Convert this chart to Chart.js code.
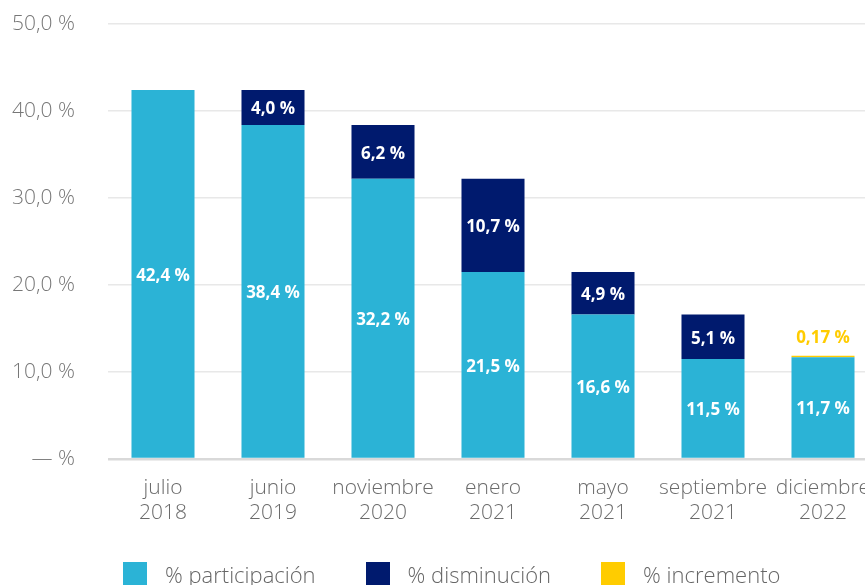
<!DOCTYPE html>
<html>
<head>
<meta charset="utf-8">
<script src="https://cdn.jsdelivr.net/npm/chart.js@4"></script>
<style>
  html, body { margin: 0; padding: 0; background: #fff; overflow: hidden; }
  #wrap { position: relative; width: 880px; height: 585px; }
  #chart-box { position: absolute; left: 0; top: 0; width: 880px; height: 560px; }
  #legend { position: absolute; left: 123px; top: 562px; display: flex; font-family: 'Open Sans', sans-serif; font-weight: 300; font-size: 22px; color: #666; line-height: 24px; }
  #legend .item { display: flex; align-items: center; margin-right: 50px; }
  #legend .box { width: 24px; height: 24px; margin-right: 18px; }
</style>
</head>
<body>
<div id="wrap">
  <div id="chart-box"><canvas id="c"></canvas></div>
  <div id="legend"></div>
</div>
<script>
(() => {
  'use strict';

  const categories = [
    ['julio', '2018'],
    ['junio', '2019'],
    ['noviembre', '2020'],
    ['enero', '2021'],
    ['mayo', '2021'],
    ['septiembre', '2021'],
    ['diciembre', '2022']
  ];
  const participacion = [42.4, 38.4, 32.2, 21.5, 16.6, 11.5, 11.7];
  const disminucion = [0, 4.0, 6.2, 10.7, 4.9, 5.1, 0];
  const incremento = [0, 0, 0, 0, 0, 0, 0.17];
  const yTicks = [0, 10, 20, 30, 40, 50];

  const COLORS = {
    participacion: '#2bb3d6',
    disminucion: '#001a6e',
    incremento: '#ffcc00'
  };

  const fmt = (v, digits) => v.toFixed(digits).replace('.', ',') + ' %';

  // white labels in the middle of each segment, yellow one above the stack for increments
  const valueLabels = {
    id: 'valueLabels',
    afterDatasetsDraw(chart) {
      const ctx = chart.ctx;
      ctx.save();
      ctx.font = '700 17px "Open Sans", sans-serif';
      ctx.textAlign = 'center';
      ctx.textBaseline = 'middle';
      chart.data.datasets.forEach((ds, i) => {
        const meta = chart.getDatasetMeta(i);
        meta.data.forEach((bar, j) => {
          const v = ds.data[j];
          if (!v) return;
          if (ds.key === 'incremento') {
            ctx.fillStyle = COLORS.incremento;
            ctx.fillText(fmt(v, 2), bar.x, bar.y - 18);
          } else {
            ctx.fillStyle = '#ffffff';
            ctx.fillText(fmt(v, 1), bar.x, (bar.y + bar.base) / 2 + 2);
          }
        });
      });
      ctx.restore();
    }
  };

  const datasets = [
    { key: 'participacion', label: '% participación', data: participacion, backgroundColor: COLORS.participacion },
    { key: 'disminucion', label: '% disminución', data: disminucion, backgroundColor: COLORS.disminucion },
    { key: 'incremento', label: '% incremento', data: incremento, backgroundColor: COLORS.incremento }
  ];

  new Chart(document.getElementById('c'), {
    type: 'bar',
    data: {
      labels: categories,
      datasets: datasets.map(d => Object.assign({
        categoryPercentage: 1,
        barPercentage: 0.573,
        borderWidth: 0
      }, d))
    },
    options: {
      responsive: true,
      maintainAspectRatio: false,
      animation: false,
      layout: { padding: { top: 24, right: 2 } },
      plugins: {
        legend: { display: false },
        tooltip: { enabled: false }
      },
      scales: {
        x: {
          stacked: true,
          grid: { display: false },
          border: { display: false },
          ticks: {
            color: '#6b6b6b',
            padding: 8,
            autoSkip: false,
            maxRotation: 0,
            minRotation: 0,
            font: { family: 'Open Sans', size: 21, weight: 300, lineHeight: 1.2 }
          },
          afterFit: scale => {
            scale.height = 101;
            scale.paddingLeft = 0;
            scale.paddingRight = 0;
          }
        },
        y: {
          stacked: true,
          min: 0,
          max: 50,
          afterBuildTicks: scale => { scale.ticks = yTicks.map(v => ({ value: v })); },
          grid: {
            drawTicks: false,
            color: ctx => ctx.tick && ctx.tick.value === 0 ? '#d9d9d9' : '#e8e8e8',
            lineWidth: ctx => ctx.tick && ctx.tick.value === 0 ? 2.5 : 1.5
          },
          border: { display: false },
          ticks: {
            color: '#777',
            padding: 33,
            font: { family: 'Open Sans', size: 21, weight: 300 },
            callback: v => v === 0 ? '— %' : fmt(v, 1)
          },
          afterFit: scale => {
            scale.width = 108;
            scale.paddingTop = 0;
            scale.paddingBottom = 0;
          }
        }
      }
    },
    plugins: [valueLabels]
  });

  const legendEl = document.getElementById('legend');
  datasets.forEach(d => {
    const item = document.createElement('div');
    item.className = 'item';
    const box = document.createElement('span');
    box.className = 'box';
    box.style.background = d.backgroundColor;
    const txt = document.createElement('span');
    txt.textContent = d.label;
    item.appendChild(box);
    item.appendChild(txt);
    legendEl.appendChild(item);
  });
})();
</script>
</body>
</html>
